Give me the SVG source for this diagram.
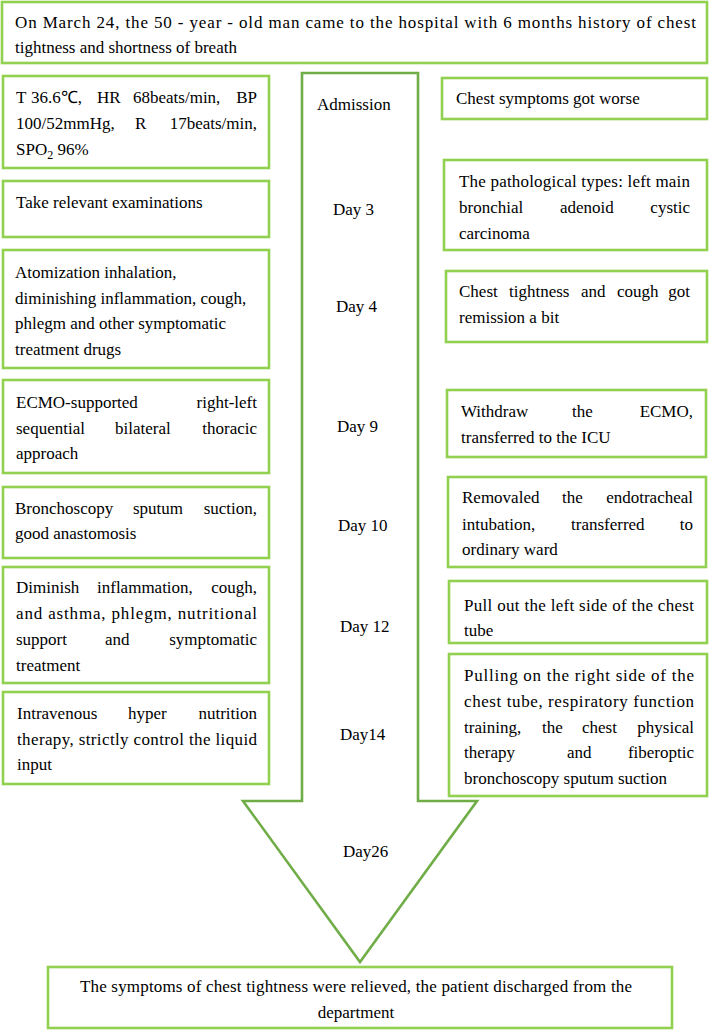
<svg xmlns="http://www.w3.org/2000/svg" width="711" height="1031" viewBox="0 0 711 1031">
<style>
.box{fill:#fff;stroke:#92D050;stroke-width:2.6}
.arrow{fill:#fff;stroke:#70AD47;stroke-width:2.6;stroke-linejoin:miter}
text{font-family:"Liberation Serif","Times New Roman",serif;font-size:17px;fill:#000}
.e{text-anchor:end}
.m{text-anchor:middle}
</style>
<rect width="711" height="1031" fill="#fff"/>
<g id="connectors">
<polygon id="timeline-arrow" class="arrow" points="302,73 418,73 418,801 477,801 360,962 243,801 302,801"/>
</g>
<g id="top">
<rect class="box" x="2" y="2" width="705" height="61"/>
<text x="15" y="28" textLength="681" lengthAdjust="spacing">On March 24, the 50 - year - old man came to the hospital with 6 months history of chest</text>
<text x="15" y="53">tightness and shortness of breath</text>
</g>
<g id="timeline-labels">
<text x="317" y="110">Admission</text>
<text x="333" y="215">Day 3</text>
<text x="336" y="312">Day 4</text>
<text x="337" y="432">Day 9</text>
<text x="338" y="531">Day 10</text>
<text x="340" y="632">Day 12</text>
<text x="340" y="740">Day14</text>
<text x="343" y="857">Day26</text>
</g>
<g id="left1">
<rect class="box" x="3" y="76" width="266" height="92"/>
<text y="103"><tspan x="16">T</tspan><tspan x="31">36.6℃,</tspan><tspan x="97">HR</tspan><tspan x="133">68beats/min,</tspan></text>
<text class="e" x="257" y="103">BP</text>
<text y="129"><tspan x="16">100/52mmHg,</tspan><tspan x="135">R</tspan></text>
<text class="e" x="257" y="129">17beats/min,</text>
<text x="16" y="155">SPO<tspan font-size="12" dy="4">2</tspan><tspan dy="-4"> 96%</tspan></text>
</g>
<g id="left2">
<rect class="box" x="3" y="181" width="266" height="56"/>
<text x="16" y="208">Take relevant examinations</text>
</g>
<g id="left3">
<rect class="box" x="3" y="250" width="266" height="118"/>
<text x="15" y="278">Atomization inhalation,</text>
<text x="15" y="304">diminishing inflammation, cough,</text>
<text x="15" y="329">phlegm and other symptomatic</text>
<text x="15" y="355">treatment drugs</text>
</g>
<g id="left4">
<rect class="box" x="3" y="380" width="266" height="93"/>
<text x="16" y="408">ECMO-supported</text>
<text class="e" x="257" y="408">right-left</text>
<text y="434"><tspan x="16">sequential</tspan><tspan x="115">bilateral</tspan></text>
<text class="e" x="257" y="434">thoracic</text>
<text x="16" y="459">approach</text>
</g>
<g id="left5">
<rect class="box" x="3" y="487" width="266" height="71"/>
<text y="514"><tspan x="15">Bronchoscopy</tspan><tspan x="133">sputum</tspan></text>
<text class="e" x="257" y="514">suction,</text>
<text x="15" y="539">good anastomosis</text>
</g>
<g id="left6">
<rect class="box" x="3" y="567" width="266" height="116"/>
<text y="593"><tspan x="16">Diminish</tspan><tspan x="97">inflammation,</tspan></text>
<text class="e" x="257" y="593">cough,</text>
<text x="16" y="619" textLength="241" lengthAdjust="spacing">and asthma, phlegm, nutritional</text>
<text y="645"><tspan x="16">support</tspan><tspan x="105">and</tspan></text>
<text class="e" x="257" y="645">symptomatic</text>
<text x="16" y="671">treatment</text>
</g>
<g id="left7">
<rect class="box" x="3" y="692" width="266" height="92"/>
<text y="719"><tspan x="17">Intravenous</tspan><tspan x="128">hyper</tspan></text>
<text class="e" x="257" y="719">nutrition</text>
<text x="17" y="745" textLength="240" lengthAdjust="spacing">therapy, strictly control the liquid</text>
<text x="17" y="770">input</text>
</g>
<g id="right1">
<rect class="box" x="442" y="78" width="265" height="41"/>
<text x="456" y="104">Chest symptoms got worse</text>
</g>
<g id="right2">
<rect class="box" x="444" y="160" width="263" height="90"/>
<text x="459" y="187" textLength="231" lengthAdjust="spacing">The pathological types: left main</text>
<text y="213"><tspan x="459">bronchial</tspan><tspan x="560">adenoid</tspan></text>
<text class="e" x="690" y="213">cystic</text>
<text x="459" y="239">carcinoma</text>
</g>
<g id="right3">
<rect class="box" x="446" y="271" width="261" height="71"/>
<text y="297"><tspan x="459">Chest</tspan><tspan x="509">tightness</tspan><tspan x="581">and</tspan><tspan x="617">cough</tspan></text>
<text class="e" x="690" y="297">got</text>
<text x="459" y="323">remission a bit</text>
</g>
<g id="right4">
<rect class="box" x="447" y="390" width="259" height="67"/>
<text y="417"><tspan x="461">Withdraw</tspan><tspan x="572">the</tspan></text>
<text class="e" x="693" y="417">ECMO,</text>
<text x="461" y="443">transferred to the ICU</text>
</g>
<g id="right5">
<rect class="box" x="448" y="477" width="258" height="90"/>
<text y="503"><tspan x="462">Removaled</tspan><tspan x="562">the</tspan></text>
<text class="e" x="693" y="503">endotracheal</text>
<text y="530"><tspan x="462">intubation,</tspan><tspan x="571">transferred</tspan></text>
<text class="e" x="693" y="530">to</text>
<text x="462" y="555">ordinary ward</text>
</g>
<g id="right6">
<rect class="box" x="449" y="581" width="258" height="62"/>
<text x="464" y="611" textLength="230" lengthAdjust="spacing">Pull out the left side of the chest</text>
<text x="464" y="636">tube</text>
</g>
<g id="right7">
<rect class="box" x="449" y="654" width="258" height="142"/>
<text x="464" y="681" textLength="230" lengthAdjust="spacing">Pulling on the right side of the</text>
<text x="464" y="707" textLength="230" lengthAdjust="spacing">chest tube, respiratory function</text>
<text y="733"><tspan x="464">training,</tspan><tspan x="542">the</tspan><tspan x="582">chest</tspan></text>
<text class="e" x="694" y="733">physical</text>
<text y="758"><tspan x="464">therapy</tspan><tspan x="567">and</tspan></text>
<text class="e" x="694" y="758">fiberoptic</text>
<text x="464" y="784">bronchoscopy sputum suction</text>
</g>
<g id="bottom">
<rect class="box" x="48" y="967" width="624" height="61"/>
<text x="80" y="992" textLength="552" lengthAdjust="spacing">The symptoms of chest tightness were relieved, the patient discharged from the</text>
<text class="m" x="356" y="1018">department</text>
</g>
</svg>
